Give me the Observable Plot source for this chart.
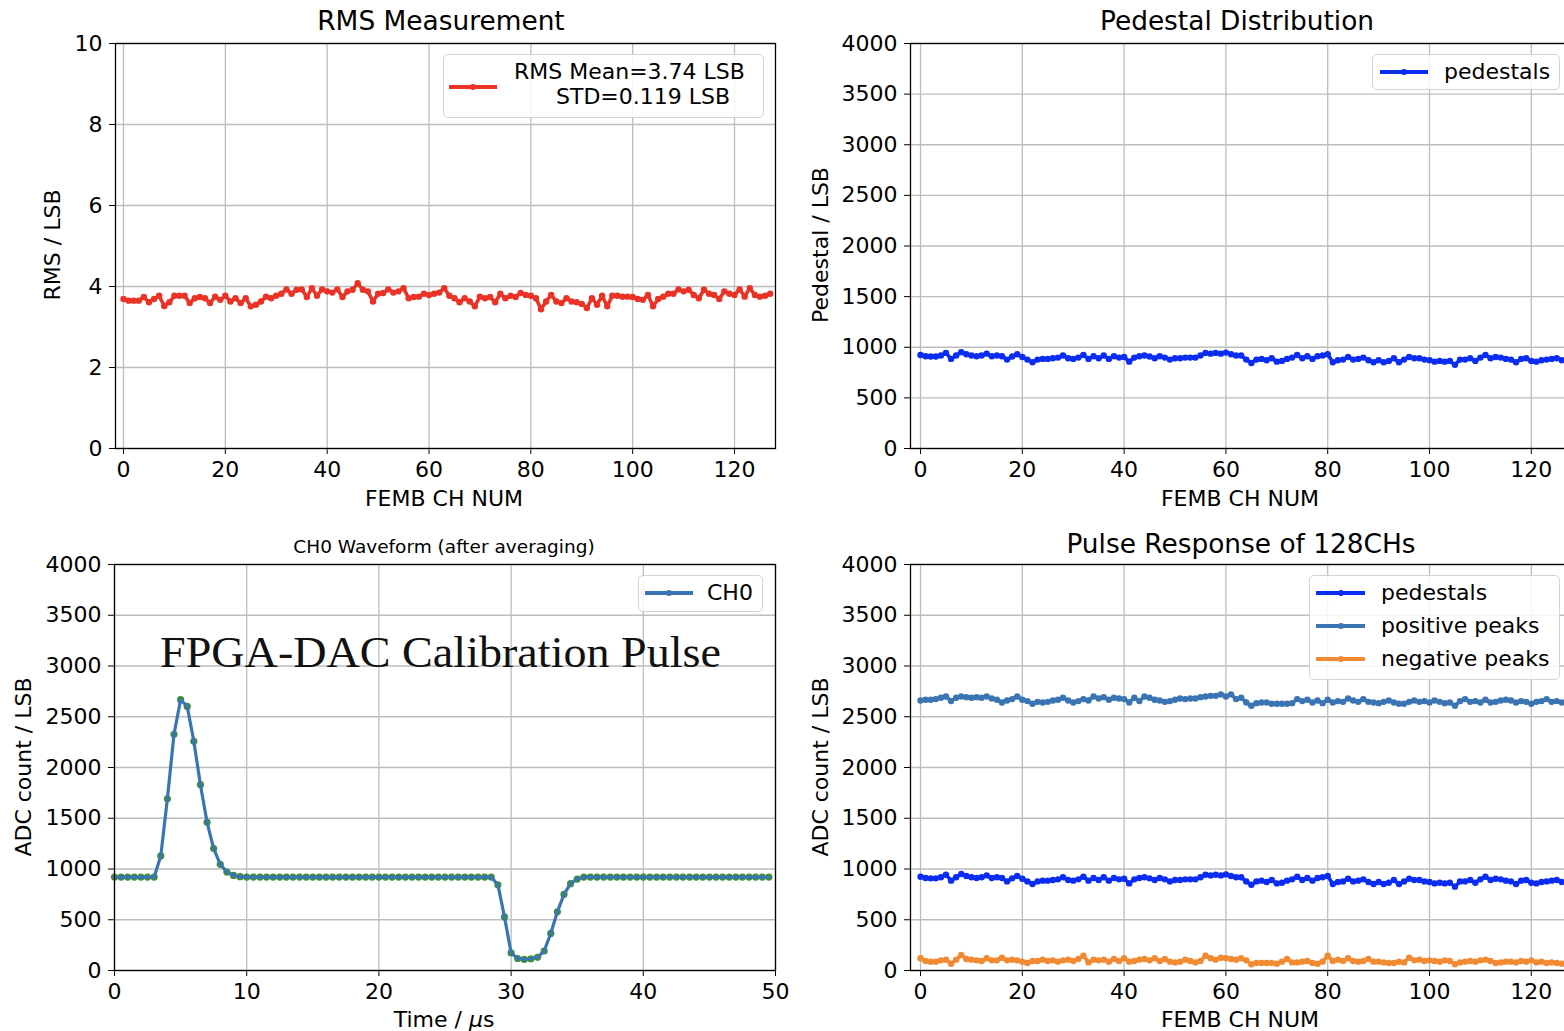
<!DOCTYPE html>
<html><head><meta charset="utf-8">
<script src="https://cdn.jsdelivr.net/npm/d3@7"></script>
<script src="https://cdn.jsdelivr.net/npm/@observablehq/plot@0.6"></script>
<style>
body{margin:0;background:#fff;overflow:hidden;}
#root{position:relative;width:1564px;height:1031px;overflow:hidden;font-family:"DejaVu Sans",sans-serif;color:#000;}
.panel{position:absolute;}
.title{position:absolute;text-align:center;white-space:nowrap;transform:translate(-50%,-50%);line-height:1.2;}
.lab{position:absolute;white-space:nowrap;font-size:22px;line-height:1.2;transform:translate(-50%,-50%);}
.ylab{transform:translate(-50%,-50%) rotate(-90deg);}
.legend{position:absolute;border:1.5px solid #d4d4d4;border-radius:5px;background:rgba(255,255,255,0.85);box-sizing:border-box;}
.sw{position:absolute;height:4px;}
.sw i{position:absolute;left:50%;top:50%;width:6px;height:6px;border-radius:50%;transform:translate(-50%,-50%);}
.lt{position:absolute;font-size:22px;white-space:nowrap;line-height:26px;}
</style></head><body><div id="root"></div>
<script>
// ---------------- data ----------------
const chTicks = [0, 20, 40, 60, 80, 100, 120];
const rmsTicks = [0, 2, 4, 6, 8, 10];
const adcTicks = [0, 500, 1000, 1500, 2000, 2500, 3000, 3500, 4000];
const timeTicks = [0, 10, 20, 30, 40, 50];

const rms = [
  3.69,3.65,3.65,3.65,3.74,3.61,3.69,3.77,3.52,3.61,
  3.77,3.77,3.77,3.59,3.71,3.74,3.71,3.59,3.75,3.67,
  3.77,3.63,3.71,3.59,3.71,3.51,3.55,3.63,3.75,3.71,
  3.77,3.82,3.93,3.82,3.92,3.93,3.74,3.96,3.77,3.93,
  3.88,3.85,3.93,3.74,3.88,3.92,4.08,3.92,3.88,3.63,
  3.82,3.84,3.93,3.85,3.88,3.96,3.71,3.74,3.75,3.82,
  3.79,3.82,3.85,3.96,3.77,3.71,3.61,3.71,3.63,3.51,
  3.75,3.71,3.74,3.61,3.82,3.71,3.77,3.74,3.84,3.79,
  3.77,3.71,3.44,3.63,3.79,3.63,3.59,3.71,3.63,3.61,
  3.57,3.47,3.71,3.55,3.77,3.51,3.77,3.77,3.75,3.75,
  3.74,3.69,3.67,3.79,3.51,3.69,3.75,3.82,3.82,3.93,
  3.88,3.92,3.79,3.71,3.92,3.82,3.79,3.69,3.88,3.82,
  3.79,3.93,3.75,3.96,3.79,3.75,3.77,3.82
];

const pedestals = [
  924,911,908,908,918,944,885,918,951,931,
  918,911,918,937,911,918,911,878,908,931,
  904,878,852,878,885,885,891,898,918,891,
  885,898,924,885,911,891,918,885,911,898,
  904,858,898,911,918,908,891,911,898,878,
  891,891,898,898,898,918,944,937,944,937,
  947,931,918,918,878,845,878,885,872,891,
  858,865,885,898,924,891,911,885,911,918,
  931,852,872,878,904,878,885,898,872,852,
  872,852,865,891,852,878,904,891,891,878,
  872,858,865,858,865,826,878,878,891,865,
  898,924,891,904,898,885,878,852,885,891,
  865,858,872,878,885,891,872,870
];

const positivePeaks = [
  2660,2667,2667,2674,2687,2700,2654,2687,2700,2693,
  2687,2693,2687,2700,2680,2667,2641,2660,2674,2700,
  2667,2654,2628,2647,2641,2647,2660,2667,2687,2660,
  2641,2654,2674,2660,2700,2680,2693,2667,2687,2680,
  2674,2641,2687,2654,2700,2687,2667,2660,2647,2654,
  2667,2680,2674,2680,2680,2693,2700,2706,2706,2720,
  2700,2720,2674,2687,2641,2608,2634,2641,2641,2628,
  2628,2628,2628,2634,2674,2654,2667,2641,2660,2634,
  2667,2641,2654,2647,2680,2660,2647,2674,2647,2641,
  2634,2647,2660,2641,2628,2628,2647,2660,2647,2654,
  2641,2660,2647,2634,2641,2608,2654,2674,2647,2654,
  2641,2667,2641,2647,2660,2667,2660,2641,2654,2647,
  2628,2647,2654,2674,2647,2654,2641,2650
];

const negativePeaks = [
  120,93,87,87,100,107,67,107,152,113,
  107,100,93,120,100,100,126,100,107,100,
  87,74,93,93,107,93,100,87,100,107,
  93,113,146,80,107,100,107,87,113,93,
  120,87,93,107,113,100,120,93,113,87,
  80,87,107,93,80,93,146,120,107,126,
  120,113,107,120,100,61,74,74,74,74,
  67,87,113,80,80,87,93,74,67,87,
  146,93,107,93,120,93,87,93,113,87,
  87,80,74,74,87,80,126,100,107,93,
  100,93,87,100,93,61,80,87,93,87,
  100,107,93,74,80,87,87,80,93,87,
  100,80,87,74,80,74,67,80
];

// CH0 waveform, one sample every 0.5 us from 0 to 49.5 us
const waveform = [
  920,920,920,920,920,920,920,1129,1692,2327,
  2668,2602,2258,1831,1460,1202,1046,970,937,924,
  920,920,920,920,920,920,920,920,920,920,
  920,920,920,920,920,920,920,920,920,920,
  920,920,920,920,920,920,920,920,920,920,
  920,920,920,920,920,920,920,920,845,528,
  174,118,110,116,130,192,365,578,750,855,
  901,920,920,920,920,920,920,920,920,920,
  920,920,920,920,920,920,920,920,920,920,
  920,920,920,920,920,920,920,920,920,920
];

const titles = ["RMS Measurement", "Pedestal Distribution", "CH0 Waveform (after averaging)", "Pulse Response of 128CHs"];
const seriesNames = ["pedestals", "positive peaks", "negative peaks"];

// --------------- helpers ---------------
const root = document.getElementById("root");
const times = d3.range(waveform.length).map(i => i * 0.5);
const rows = (arr) => arr.map((v, i) => ({x: i, v}));

const C = {
  red: "#ea3326",
  blue: "#0b2df2",
  steel: "#3a74b3",
  orange: "#f28a33",
  green: "#3f8f38",
  grid: "#bdbdbd"
};

function seriesMarks(data, color, r = 3.2, sw = 3.6) {
  return [
    Plot.line(data, {x: "x", y: "v", stroke: color, strokeWidth: sw}),
    Plot.dot(data, {x: "x", y: "v", r, fill: color, stroke: null})
  ];
}

function panel(o) {
  const svg = Plot.plot({
    width: o.width, height: o.height,
    marginLeft: o.mL, marginRight: o.mR, marginTop: o.mT, marginBottom: o.mB,
    style: {fontFamily: '"DejaVu Sans", sans-serif', fontSize: "22px", color: "#000", background: "transparent", overflow: "visible"},
    x: {domain: o.xDomain, ticks: o.xTicks, tickFormat: d => String(d), tickSize: 6, tickPadding: 7, label: null},
    y: {domain: o.yDomain, ticks: o.yTicks, tickFormat: d => String(d), tickSize: 6, tickPadding: 7, label: null},
    marks: [
      Plot.gridX(o.xTicks, {stroke: C.grid, strokeOpacity: 1, strokeWidth: 1.3}),
      Plot.gridY(o.yTicks, {stroke: C.grid, strokeOpacity: 1, strokeWidth: 1.3}),
      ...o.marks,
      Plot.frame({stroke: "#000", strokeWidth: 1.3})
    ]
  });
  svg.classList.add("panel");
  svg.style.left = o.left + "px";
  svg.style.top = o.top + "px";
  root.appendChild(svg);
}

function el(cls, html, css) {
  const d = document.createElement("div");
  d.className = cls;
  d.innerHTML = html;
  Object.assign(d.style, css);
  root.appendChild(d);
  return d;
}
function title(text, cx, cy, size) { el("title", text, {left: cx + "px", top: cy + "px", fontSize: size + "px"}); }
function xlab(text, cx, cy) { el("lab", text, {left: cx + "px", top: cy + "px"}); }
function ylab(text, cx, cy) { el("lab ylab", text, {left: cx + "px", top: cy + "px"}); }
function box(x1, y1, x2, y2) { el("legend", "", {left: x1 + "px", top: y1 + "px", width: (x2 - x1) + "px", height: (y2 - y1) + "px"}); }
function swatch(x1, x2, y, color, dotColor) {
  el("sw", `<i style="background:${dotColor || color}"></i>`, {left: x1 + "px", width: (x2 - x1) + "px", top: (y - 2) + "px", background: color});
}
function ltext(text, x, cy) { el("lt", text, {left: x + "px", top: (cy - 13) + "px"}); }

// --------------- panels ---------------
// top-left: RMS
panel({left: 0, top: 0, width: 782, height: 520, mL: 115, mR: 7, mT: 43, mB: 72,
  xDomain: [-1.57, 128.05], yDomain: [0, 10], xTicks: chTicks, yTicks: rmsTicks,
  marks: seriesMarks(rows(rms), C.red)});
// top-right: pedestals
panel({left: 782, top: 0, width: 798, height: 520, mL: 128, mR: 10, mT: 43, mB: 72,
  xDomain: [-1.97, 127.7], yDomain: [0, 4000], xTicks: chTicks, yTicks: adcTicks,
  marks: seriesMarks(rows(pedestals), C.blue)});
// bottom-left: waveform
const wfRows = waveform.map((v, i) => ({x: times[i], v}));
panel({left: 0, top: 520, width: 782, height: 511, mL: 114, mR: 7, mT: 44, mB: 61,
  xDomain: [0, 50], yDomain: [0, 4000], xTicks: timeTicks, yTicks: adcTicks,
  marks: [
    Plot.dot(wfRows, {x: "x", y: "v", r: 3.6, fill: C.green, stroke: null}),
    Plot.line(wfRows, {x: "x", y: "v", stroke: C.steel, strokeWidth: 3.2})
  ]});
// bottom-right: pulse response
panel({left: 782, top: 520, width: 798, height: 511, mL: 128, mR: 10, mT: 44, mB: 61,
  xDomain: [-1.97, 127.7], yDomain: [0, 4000], xTicks: chTicks, yTicks: adcTicks,
  marks: [
    ...seriesMarks(rows(pedestals), C.blue),
    ...seriesMarks(rows(positivePeaks), C.steel),
    ...seriesMarks(rows(negativePeaks), C.orange)
  ]});

// --------------- titles & labels ---------------
title(titles[0], 441, 21, 26.4);
title(titles[1], 1237, 21, 26.4);
title(titles[2], 444, 547, 18.5);
title(titles[3], 1241, 544, 26.4);

xlab("FEMB CH NUM", 444, 499);
xlab("FEMB CH NUM", 1240, 499);
xlab("Time / <i>μ</i>s", 444, 1020);
xlab("FEMB CH NUM", 1240, 1020);
ylab("RMS / LSB", 53, 245);
ylab("Pedestal / LSB", 821, 245);
ylab("ADC count / LSB", 24, 767);
ylab("ADC count / LSB", 821, 767);

// --------------- legends ---------------
box(443, 54, 764, 118);
swatch(449, 497, 87, C.red);
ltext("RMS Mean=3.74 LSB", 514, 72);
ltext("STD=0.119 LSB", 556, 97);

box(1372, 54, 1560, 90);
swatch(1380, 1428, 72, C.blue);
ltext(seriesNames[0], 1444, 72);

box(638, 575, 763, 612);
swatch(645, 693, 593, C.steel, C.steel);
ltext("CH0", 707, 593);

box(1309, 575, 1560, 680);
swatch(1316, 1365, 593, C.blue);
ltext(seriesNames[0], 1381, 593);
swatch(1316, 1365, 626, C.steel);
ltext(seriesNames[1], 1381, 626);
swatch(1316, 1365, 659, C.orange);
ltext(seriesNames[2], 1381, 659);

// --------------- annotation ---------------
const ns = "http://www.w3.org/2000/svg";
const ann = document.createElementNS(ns, "svg");
ann.setAttribute("width", 1564); ann.setAttribute("height", 1031);
ann.style.position = "absolute"; ann.style.left = "0"; ann.style.top = "0"; ann.style.pointerEvents = "none";
const t = document.createElementNS(ns, "text");
t.setAttribute("x", 160); t.setAttribute("y", 667);
t.setAttribute("font-family", '"Liberation Serif", "DejaVu Serif", serif');
t.setAttribute("font-size", 45);
t.setAttribute("fill", "#111");
t.setAttribute("textLength", 561);
t.setAttribute("lengthAdjust", "spacingAndGlyphs");
t.textContent = "FPGA-DAC Calibration Pulse";
ann.appendChild(t);
root.appendChild(ann);
</script></body></html>
